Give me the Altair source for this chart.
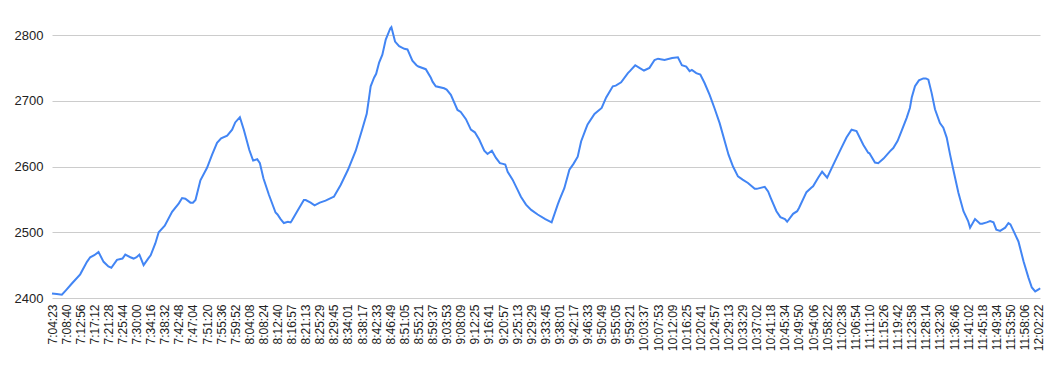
import json
import altair as alt
import pandas as pd

tick_labels = [
    "7:04:23", "7:08:40", "7:12:56", "7:17:12", "7:21:28", "7:25:44", "7:30:00", "7:34:16",
    "7:38:32", "7:42:48", "7:47:04", "7:51:20", "7:55:36", "7:59:52", "8:04:08", "8:08:24",
    "8:12:40", "8:16:57", "8:21:13", "8:25:29", "8:29:45", "8:34:01", "8:38:17", "8:42:33",
    "8:46:49", "8:51:05", "8:55:21", "8:59:37", "9:03:53", "9:08:09", "9:12:25", "9:16:41",
    "9:20:57", "9:25:13", "9:29:29", "9:33:45", "9:38:01", "9:42:17", "9:46:33", "9:50:49",
    "9:55:05", "9:59:21", "10:03:37", "10:07:53", "10:12:09", "10:16:25", "10:20:41", "10:24:57",
    "10:29:13", "10:33:29", "10:37:02", "10:41:18", "10:45:34", "10:49:50", "10:54:06", "10:58:22",
    "11:02:38", "11:06:54", "11:11:10", "11:15:26", "11:19:42", "11:23:58", "11:28:14", "11:32:30",
    "11:36:46", "11:41:02", "11:45:18", "11:49:34", "11:53:50", "11:58:06", "12:02:22",
]

# sample position, in units of the label spacing (0 = first label)
positions = [
    0.0, 0.34, 0.70, 1.0, 1.41, 2.0, 2.48, 2.71, 3.0, 3.30, 3.66, 4.0, 4.21, 4.61, 5.0, 5.20,
    5.56, 5.79, 6.0, 6.20, 6.50, 6.86, 7.0, 7.33, 7.57, 8.0, 8.52, 9.0, 9.23, 9.46, 9.82, 10.0,
    10.18, 10.53, 11.0, 11.36,
    11.71, 12.0, 12.43, 12.78, 13.0, 13.33, 13.61, 14.0, 14.27, 14.56, 14.75, 15.0, 15.39, 15.86,
    16.0, 16.22, 16.45, 16.74, 16.93, 17.0, 17.40, 17.87, 18.0, 18.35, 18.63, 19.0, 19.41, 19.89,
    20.0, 20.48, 21.0, 21.55, 22.0, 22.33, 22.5, 22.61, 22.85, 23.0, 23.21,
    23.44, 23.68, 24.0, 24.08, 24.34, 24.63, 25.0, 25.22, 25.57, 25.86, 26.0, 26.52, 26.88, 27.0,
    27.23, 27.82, 28.0, 28.30, 28.77, 29.0, 29.37, 29.72, 30.0, 30.31, 30.67, 30.90, 31.21, 31.50,
    31.78, 32.0, 32.16, 32.33, 32.68, 33.0, 33.27, 33.63, 34.0, 34.46, 35.0,
    35.45, 35.88, 36.0, 36.35, 36.71, 37.0, 37.30, 37.54, 37.89, 38.0, 38.49, 39.0, 39.32, 39.79,
    40.0, 40.38, 40.86, 41.0, 41.38, 41.68, 42.0, 42.39, 42.75, 43.0, 43.46, 44.0, 44.41, 44.69,
    45.0, 45.24, 45.40, 45.71, 46.0, 46.30, 46.66,
    47.0, 47.37, 48.0, 48.32, 48.67, 49.0, 49.38, 49.86, 50.0, 50.57, 50.81, 51.0, 51.40, 51.68,
    52.0, 52.16, 52.58, 52.87, 53.0, 53.53, 53.89, 54.0, 54.36, 54.64, 55.0, 55.42, 56.0, 56.37,
    56.73, 57.08, 57.56, 57.91, 58.0, 58.39,
    58.62, 59.0, 59.45, 59.69, 60.0, 60.28, 60.64, 60.87, 61.0, 61.23, 61.51, 61.82, 62.0, 62.18,
    62.41, 62.65, 63.0, 63.24, 63.48, 63.72, 64.0, 64.31, 64.67, 65.0, 65.14, 65.49, 65.85, 66.0,
    66.32, 66.56, 66.80, 67.0, 67.27, 67.63, 67.86, 68.0, 68.22, 68.57, 68.93, 69.28, 69.52, 69.76,
    70.0, 70.11,
]

values = [
    2407, 2406, 2405, 2412, 2422, 2436, 2455, 2462, 2465, 2470, 2455, 2448, 2446, 2458, 2460, 2466,
    2462, 2460, 2462, 2466, 2450, 2461, 2465, 2483, 2500, 2510, 2531, 2544, 2552, 2551, 2545, 2545,
    2549, 2579, 2598, 2618,
    2636, 2643, 2647, 2656, 2667, 2675, 2656, 2625, 2609, 2611, 2605, 2582, 2557, 2530,
    2527, 2520, 2514, 2516, 2515, 2517, 2532, 2549, 2549, 2545, 2541, 2545, 2548, 2553,
    2554, 2572, 2595, 2624, 2656, 2680, 2705, 2722, 2735, 2741, 2758,
    2770, 2793, 2810, 2812, 2790, 2783, 2779, 2778, 2761, 2754, 2752, 2748, 2735, 2729,
    2722, 2719, 2717, 2709, 2686, 2683, 2672, 2656, 2652, 2641, 2624, 2619, 2624, 2613,
    2605, 2604, 2603, 2592, 2580, 2566, 2554, 2542, 2534, 2527, 2520,
    2515, 2542, 2549, 2567, 2595, 2604, 2615, 2638, 2658, 2664, 2680, 2689, 2705, 2722,
    2723, 2728, 2742, 2745, 2754, 2750, 2746, 2750, 2762, 2764, 2762, 2765, 2766, 2754,
    2752, 2745, 2747, 2742, 2740, 2727, 2709,
    2689, 2666, 2618, 2600, 2585, 2580, 2575, 2566, 2566, 2569, 2562, 2552, 2532, 2523,
    2520, 2516, 2528, 2532, 2537, 2561, 2568, 2570, 2583, 2592, 2583, 2602, 2628, 2644,
    2656, 2654, 2633, 2621, 2620, 2606,
    2605, 2612, 2623, 2628, 2639, 2654, 2674, 2689, 2705, 2722, 2731, 2734, 2734, 2732,
    2712, 2687, 2666, 2659, 2644, 2618, 2590, 2560, 2532, 2517, 2507, 2520, 2513, 2513,
    2515, 2517, 2515, 2504, 2502, 2507, 2514, 2512, 2502, 2486, 2456, 2431, 2416, 2410,
    2413, 2415,
]

y_ticks = [2400, 2500, 2600, 2700, 2800]

df = pd.DataFrame({"pos": positions, "value": values})

label_expr = json.dumps(tick_labels) + "[datum.value]"

chart = (
    alt.Chart(df)
    .mark_line(color="#4285F4", strokeWidth=2)
    .encode(
        x=alt.X(
            "pos:Q",
            scale=alt.Scale(domain=[0, 70.1], nice=False, zero=False),
            axis=alt.Axis(
                title=None,
                values=list(range(len(tick_labels))),
                labelExpr=label_expr,
                labelAngle=-90,
                labelAlign="right",
                labelBaseline="middle",
                labelPadding=6,
                labelOverlap=False,
                labelFontSize=12,
                labelFont="Liberation Sans",
                labelColor="#222222",
                ticks=False,
                domain=False,
                grid=False,
            ),
        ),
        y=alt.Y(
            "value:Q",
            scale=alt.Scale(domain=[2400, 2800], nice=False, zero=False),
            axis=alt.Axis(
                title=None,
                values=y_ticks,
                format="d",
                labelPadding=9,
                labelFontSize=13,
                labelFont="Liberation Sans",
                labelColor="#222222",
                ticks=False,
                domain=False,
                grid=True,
                gridColor="#cccccc",
                gridWidth=1,
            ),
        ),
    )
    .properties(
        width=988,
        height=263,
        padding={"left": 52, "top": 35, "right": 19, "bottom": 73},
        autosize=alt.AutoSizeParams(type="none"),
        background="white",
    )
    .configure_view(stroke=None)
)

chart.save("out.html", embed_options={"renderer": "svg", "actions": False})
